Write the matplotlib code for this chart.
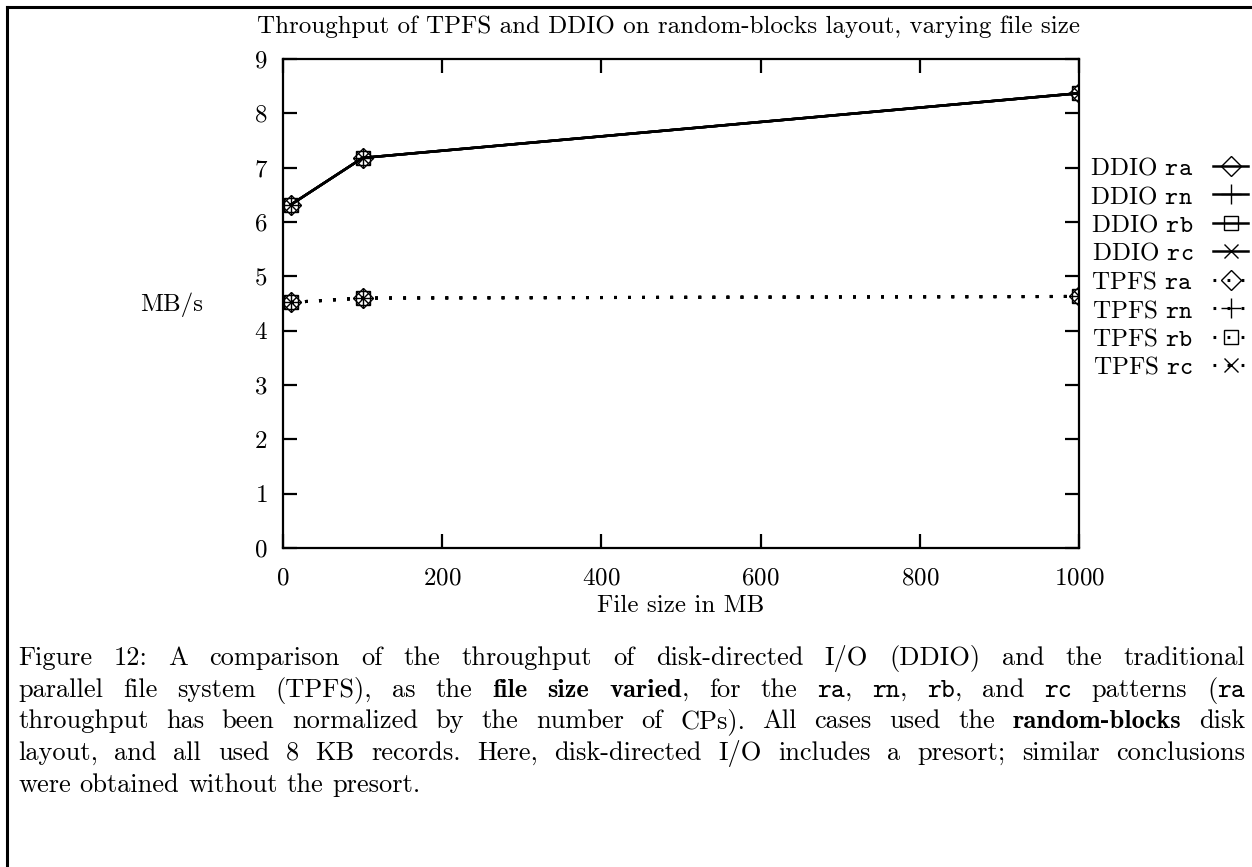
import re
import matplotlib
matplotlib.use('Agg')
import matplotlib.pyplot as plt
from matplotlib.lines import Line2D

plt.rcParams['font.family'] = 'cmr10'
plt.rcParams['mathtext.fontset'] = 'cm'
plt.rcParams['axes.formatter.use_mathtext'] = True
plt.rcParams['axes.unicode_minus'] = False

# data
file_size = [10, 100, 1000]
ddio_ra = [6.32, 7.18, 8.37]
ddio_rn = [6.32, 7.18, 8.37]
ddio_rb = [6.32, 7.18, 8.37]
ddio_rc = [6.32, 7.18, 8.37]
tpfs_ra = [4.52, 4.60, 4.63]
tpfs_rn = [4.52, 4.60, 4.63]
tpfs_rb = [4.52, 4.60, 4.63]
tpfs_rc = [4.52, 4.60, 4.63]

patterns = ['ra', 'rn', 'rb', 'rc']
ddio = [ddio_ra, ddio_rn, ddio_rb, ddio_rc]
tpfs = [tpfs_ra, tpfs_rn, tpfs_rb, tpfs_rc]
marker_of = {'ra': 'D', 'rn': '+', 'rb': 's', 'rc': 'x'}
msize_of = {'ra': 10, 'rn': 14, 'rb': 10, 'rc': 10}

title = 'Throughput of TPFS and DDIO on random-blocks layout, varying file size'
xlabel = 'File size in MB'
ylabel = 'MB/s'

# *bold*  |typewriter|
caption = [
    'Figure 12: A comparison of the throughput of disk-directed I/O (DDIO) and the traditional',
    'parallel file system (TPFS), as the *file* *size* *varied*, for the |ra|, |rn|, |rb|, and |rc| patterns (|ra|',
    'throughput has been normalized by the number of CPs). All cases used the *random-blocks* disk',
    'layout, and all used 8 KB records. Here, disk-directed I/O includes a presort; similar conclusions',
    'were obtained without the presort.',
]

W, H = 1252, 867
fig = plt.figure(figsize=(W / 100, H / 100), dpi=100)
ax = fig.add_axes([283 / W, 1 - 548 / H, (1079 - 283) / W, (548 - 59) / H])

fs = 18      # plot text
fs_cap = 19  # caption text

for p, y in zip(patterns, ddio):
    ax.plot(file_size, y, color='black', lw=1.8, marker=marker_of[p],
            ms=msize_of[p], mfc='none', mec='black', mew=1.0,
            label=r'DDIO $\mathtt{%s}$' % p)
for p, y in zip(patterns, tpfs):
    ax.plot(file_size, y, color='black', lw=2.2, ls=(0, (0.9, 3.7)),
            marker=marker_of[p], ms=msize_of[p], mfc='none', mec='black',
            mew=1.0, label=r'TPFS $\mathtt{%s}$' % p)

ax.set_xlim(0, 1000)
ax.set_ylim(0, 9)
ax.set_xticks(range(0, 1001, 200))
ax.set_yticks(range(0, 10))
for s in ax.spines.values():
    s.set_linewidth(1.6)
ax.tick_params(direction='in', length=10, width=1.6, top=True, right=True,
               labelsize=fs)
ax.tick_params(axis='x', pad=14)
ax.tick_params(axis='y', pad=11)

ax.legend(loc='upper left', bbox_to_anchor=(1090 / W, 1 - 157 / H),
          bbox_transform=fig.transFigure, frameon=False, markerfirst=False,
          fontsize=fs, borderpad=0, borderaxespad=0, handlelength=1.4,
          handletextpad=0.8, labelspacing=0.24)

fig.text(668 / W, 1 - 33 / H, title, ha='center', va='baseline', fontsize=fs)
fig.text(681 / W, 1 - 606 / H, xlabel, ha='center', va='center', fontsize=fs)
fig.text(172 / W, 1 - 305 / H, ylabel, ha='center', va='center', fontsize=fs)

# page frame (left and top rules)
fig.add_artist(Line2D([7 / W, 7 / W], [0, 1 - 7 / H], color='black', lw=2.2,
                      transform=fig.transFigure))
fig.add_artist(Line2D([7 / W, 1], [1 - 7 / H, 1 - 7 / H], color='black',
                      lw=2.2, transform=fig.transFigure))

# justified caption, placed word by word
family_of = {'': 'cmr10', '*': 'cmb10', '|': 'cmtt10'}
renderer = fig.canvas.get_renderer()
x_left, x_right = 18, 1245
baselines = [665, 697, 728, 760, 792]
space_px = fs_cap * 100 / 72 * 0.333


def split_word(word):
    pieces = []
    for tok in re.split(r'(\*[^*]+\*|\|[^|]+\|)', word):
        if not tok:
            continue
        if tok[0] in '*|':
            pieces.append((tok[1:-1], family_of[tok[0]]))
        else:
            pieces.append((tok, family_of['']))
    return pieces


for i, (line, yb) in enumerate(zip(caption, baselines)):
    words = []
    for w in line.split(' '):
        objs = []
        width = 0
        for txt, fam in split_word(w):
            t = fig.text(0, 1 - yb / H, txt, fontfamily=fam, fontsize=fs_cap,
                         va='baseline', ha='left')
            wpx = t.get_window_extent(renderer).width
            objs.append((t, width))
            width += wpx
        words.append((objs, width))
    total = sum(wd for _, wd in words)
    if i < len(caption) - 1:
        gap = (x_right - x_left - total) / (len(words) - 1)
    else:
        gap = space_px
    x = x_left
    for objs, wd in words:
        for t, off in objs:
            t.set_x((x + off) / W)
        x += wd + gap

fig.savefig('out.png', dpi=100)
